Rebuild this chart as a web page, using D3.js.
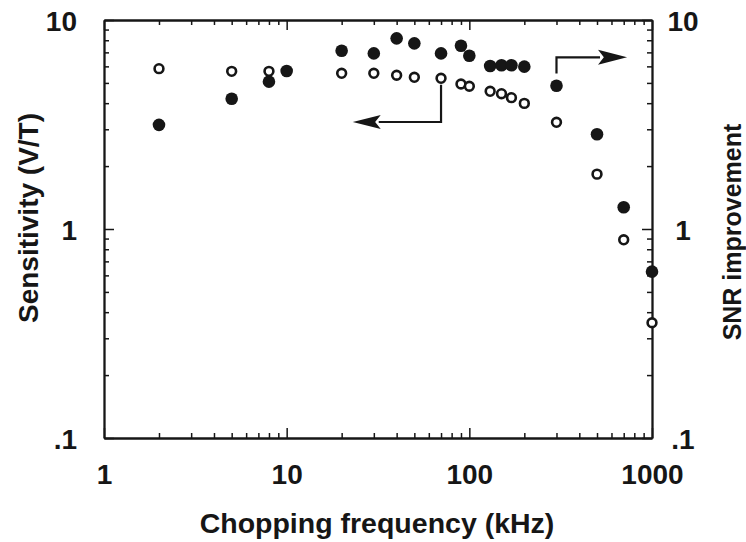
<!DOCTYPE html>
<html>
<head>
<meta charset="utf-8">
<script src="https://cdn.jsdelivr.net/npm/d3@7"></script>
<style>
  html, body { margin: 0; padding: 0; background: #fff; }
  svg { display: block; }
  text { font-family: "Liberation Sans", Arial, Helvetica, sans-serif; font-weight: bold; fill: #161616; }
</style>
</head>
<body>
<svg id="chart" width="746" height="542"></svg>
<script>
// ---- data ----
const freqFilled = [2, 5, 8, 10, 20, 30, 40, 50, 70, 90, 100, 130, 150, 170, 200, 300, 500, 700, 1000];
const snrFilled  = [3.15, 4.2, 5.07, 5.7, 7.13, 6.92, 8.17, 7.73, 6.92, 7.53, 6.75, 6.02, 6.07, 6.07, 5.98, 4.85, 2.84, 1.27, 0.625];
const freqOpen   = [2, 5, 8, 20, 30, 40, 50, 70, 90, 100, 130, 150, 170, 200, 300, 500, 700, 1000];
const sensOpen   = [5.85, 5.68, 5.68, 5.56, 5.56, 5.44, 5.32, 5.26, 4.94, 4.82, 4.56, 4.44, 4.25, 3.99, 3.24, 1.83, 0.888, 0.356];
const xMajorTicks = [1, 10, 100, 1000];
const xTickLabels = ["1", "10", "100", "1000"];
const yMajorTicks = [0.1, 1, 10];
const yTickLabels = [".1", "1", "10"];
const xTitle = "Chopping frequency (kHz)";
const yTitleLeft = "Sensitivity (V/T)";
const yTitleRight = "SNR improvement";
// annotation arrows (data units): path points, last point is the arrow tip
const arrowLeft  = [[70, 4.9], [70, 3.25], [23, 3.25]];
const arrowRight = [[300, 5.55], [300, 6.63], [730, 6.63]];

// ---- layout ----
const W = 746, H = 542;
const m = { left: 104, right: 94, top: 20, bottom: 104 };
const iw = W - m.left - m.right, ih = H - m.top - m.bottom;
const ink = "#161616";

const svg = d3.select("#chart");
const g = svg.append("g").attr("transform", `translate(${m.left},${m.top})`);

const x = d3.scaleLog().domain([1, 1000]).range([0, iw]);
const y = d3.scaleLog().domain([0.1, 10]).range([ih, 0]);

function minorOf(major) {
  const out = [];
  for (let i = 0; i < major.length - 1; i++) {
    for (let k = 2; k <= 9; k++) out.push(+(major[i] * k).toPrecision(3));
  }
  return out;
}
const xMinor = minorOf(xMajorTicks);
const yMinor = minorOf(yMajorTicks);

const fmtX = d => xTickLabels[xMajorTicks.indexOf(d)];
const fmtY = d => yTickLabels[yMajorTicks.findIndex(v => Math.abs(v - d) < 1e-9)];

function styleAxis(sel, fontSize) {
  sel.select(".domain").attr("stroke", ink).attr("stroke-width", 1.8);
  sel.selectAll(".tick line").attr("stroke", ink).attr("stroke-width", 1.5);
  sel.selectAll(".tick text")
    .attr("fill", ink)
    .style("font-size", fontSize + "px")
    .style("font-weight", "bold")
    .style("font-family", '"Liberation Sans", Arial, sans-serif');
}

// minor ticks on all four sides
g.append("g").attr("transform", `translate(0,${ih})`)
  .call(d3.axisBottom(x).tickValues(xMinor).tickSizeInner(-5).tickSizeOuter(0).tickFormat(""))
  .call(s => styleAxis(s, 27));
g.append("g")
  .call(d3.axisTop(x).tickValues(xMinor).tickSizeInner(-5).tickSizeOuter(0).tickFormat(""))
  .call(s => styleAxis(s, 27));
g.append("g")
  .call(d3.axisLeft(y).tickValues(yMinor).tickSizeInner(-5).tickSizeOuter(0).tickFormat(""))
  .call(s => styleAxis(s, 27));
g.append("g").attr("transform", `translate(${iw},0)`)
  .call(d3.axisRight(y).tickValues(yMinor).tickSizeInner(-5).tickSizeOuter(0).tickFormat(""))
  .call(s => styleAxis(s, 27));

// major ticks + labels
g.append("g").attr("transform", `translate(0,${ih})`)
  .call(d3.axisBottom(x).tickValues(xMajorTicks).tickSizeInner(-10).tickSizeOuter(0).tickPadding(36).tickFormat(fmtX))
  .call(s => styleAxis(s, 28))
  .call(s => s.selectAll(".tick text").attr("dy", "0.35em"));
g.append("g")
  .call(d3.axisTop(x).tickValues(xMajorTicks).tickSizeInner(-10).tickSizeOuter(0).tickFormat(""))
  .call(s => styleAxis(s, 27));
g.append("g")
  .call(d3.axisLeft(y).tickValues(yMajorTicks).tickSizeInner(-10).tickSizeOuter(0).tickPadding(27).tickFormat(fmtY))
  .call(s => styleAxis(s, 28))
  .call(s => s.selectAll(".tick text").attr("dy", "0.38em"));
g.append("g").attr("transform", `translate(${iw},0)`)
  .call(d3.axisRight(y).tickValues(yMajorTicks).tickSizeInner(-10).tickSizeOuter(0).tickPadding(31).tickFormat(fmtY))
  .call(s => styleAxis(s, 28))
  .call(s => s.selectAll(".tick text").attr("text-anchor", "middle").attr("dy", "0.38em"));

// annotation arrows
function drawArrow(pts, headLen, headHalf) {
  const n = pts.length;
  const tip = [x(pts[n - 1][0]), y(pts[n - 1][1])];
  const prev = [x(pts[n - 2][0]), y(pts[n - 2][1])];
  const ang = Math.atan2(tip[1] - prev[1], tip[0] - prev[0]);
  const bx = tip[0] - headLen * Math.cos(ang), by = tip[1] - headLen * Math.sin(ang);
  const shaft = pts.slice(0, n - 1).map(p => [x(p[0]), y(p[1])]).concat([[bx + 2 * Math.cos(ang), by + 2 * Math.sin(ang)]]);
  g.append("path").attr("d", d3.line()(shaft)).attr("fill", "none").attr("stroke", ink).attr("stroke-width", 2.2);
  const px = -Math.sin(ang), py = Math.cos(ang);
  g.append("path")
    .attr("d", d3.line()([tip, [bx + headHalf * px, by + headHalf * py], [bx + 0.2 * headLen * Math.cos(ang), by + 0.2 * headLen * Math.sin(ang)], [bx - headHalf * px, by - headHalf * py]]) + "Z")
    .attr("fill", ink);
}
drawArrow(arrowLeft, 28, 7);
drawArrow(arrowRight, 29, 7.5);

// data points
g.selectAll("circle.filled").data(freqFilled.map((f, i) => [f, snrFilled[i]]))
  .join("circle").attr("class", "filled")
  .attr("cx", d => x(d[0])).attr("cy", d => y(d[1])).attr("r", 6.3)
  .attr("fill", ink);
g.selectAll("circle.open").data(freqOpen.map((f, i) => [f, sensOpen[i]]))
  .join("circle").attr("class", "open")
  .attr("cx", d => x(d[0])).attr("cy", d => y(d[1])).attr("r", 4.4)
  .attr("fill", "#fff").attr("stroke", ink).attr("stroke-width", 2.6);

// titles
svg.append("text").attr("x", m.left + iw / 2 - 1).attr("y", 533)
  .attr("text-anchor", "middle").style("font-size", "28.5px").text(xTitle);
svg.append("text").attr("transform", "translate(38,218) rotate(-90)")
  .attr("text-anchor", "middle").style("font-size", "28px").text(yTitleLeft);
svg.append("text").attr("transform", "translate(741,232) rotate(-90)")
  .attr("text-anchor", "middle").style("font-size", "25px").text(yTitleRight);
</script>
</body>
</html>
